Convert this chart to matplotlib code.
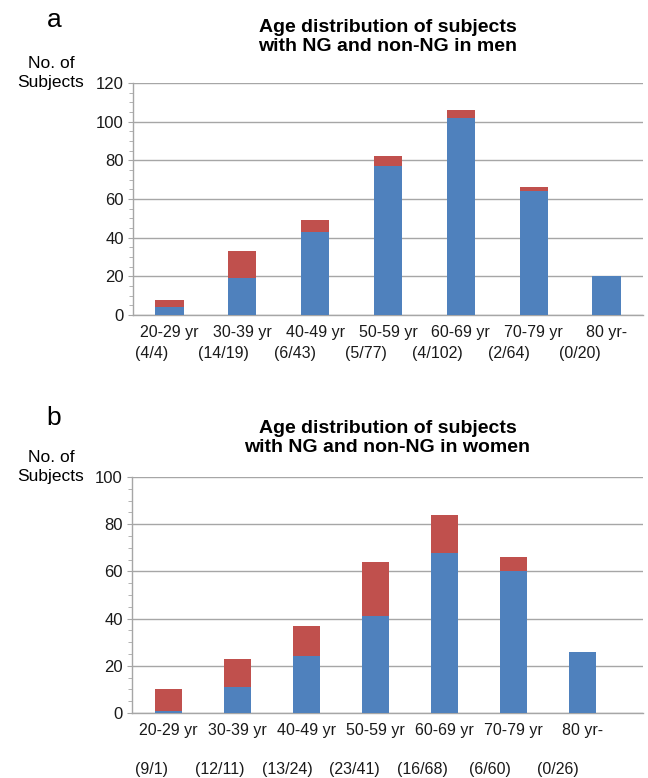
import matplotlib
matplotlib.use("Agg")
import matplotlib.pyplot as plt
from matplotlib.ticker import MultipleLocator
import numpy as np

plt.rcParams['font.family'] = ['Liberation Sans', 'DejaVu Sans']

categories = ["20-29 yr", "30-39 yr", "40-49 yr", "50-59 yr", "60-69 yr", "70-79 yr", "80 yr-"]

men_ng = [4, 14, 6, 5, 4, 2, 0]
men_non_ng = [4, 19, 43, 77, 102, 64, 20]
women_ng = [9, 12, 13, 23, 16, 6, 0]
women_non_ng = [1, 11, 24, 41, 68, 60, 26]

BLUE = "#4F81BD"
RED = "#C0504D"
GRID = "#A6A6A6"

W, H = 648, 778
fig = plt.figure(figsize=(W / 100, H / 100), dpi=100)


def px_rect(left, top, right, bottom):
    return [left / W, 1 - bottom / H, (right - left) / W, (bottom - top) / H]


def draw_panel(rect, ng, non_ng, ymax, xlim, title, letter, letter_y, label_y, title_y, count_y):
    ax = fig.add_axes(px_rect(*rect))
    x = np.arange(len(categories))
    ax.bar(x, non_ng, width=0.39, color=BLUE, linewidth=0, zorder=3)
    ax.bar(x, ng, bottom=non_ng, width=0.39, color=RED, linewidth=0, zorder=3)
    ax.set_xlim(*xlim)
    ax.set_ylim(0, ymax)
    ax.yaxis.set_major_locator(MultipleLocator(20))
    ax.yaxis.set_minor_locator(MultipleLocator(5))
    ax.yaxis.grid(True, which="major", color=GRID, linewidth=1.0, zorder=0)
    ax.set_axisbelow(True)
    for s in ["top", "right"]:
        ax.spines[s].set_visible(False)
    for s in ["left", "bottom"]:
        ax.spines[s].set_color(GRID)
        ax.spines[s].set_linewidth(1.0)
    ax.set_xticks(x)
    ax.set_xticklabels(categories, fontsize=11.5, color="#1a1a1a")
    ax.tick_params(axis="x", length=0, pad=7)
    ax.tick_params(axis="y", which="major", length=3.5, color=GRID, labelsize=12, labelcolor="#1a1a1a", pad=3)
    ax.tick_params(axis="y", which="minor", length=3, color=GRID)

    # count labels (NG / non-NG)
    trans = ax.get_xaxis_transform()
    for i, (a, b) in enumerate(zip(ng, non_ng)):
        ax.text(0.98 * i - 0.24, count_y, f"({a}/{b})", transform=trans,
                ha="center", va="center", fontsize=11.5, color="#1a1a1a", clip_on=False)

    cx = (rect[0] + rect[2]) / 2 / W
    fig.text(cx, 1 - title_y / H, title, ha="center", va="center", fontsize=14,
             fontweight="bold", linespacing=1.15)
    fig.text(54 / W, 1 - letter_y / H, letter, ha="center", va="center", fontsize=19)
    fig.text(51 / W, 1 - (label_y - 20) / H, "No. of", ha="center", va="center", fontsize=12.5)
    fig.text(51 / W, 1 - label_y / H, "Subjects", ha="center", va="center", fontsize=12.5)
    return ax


draw_panel((133, 83, 643, 315), men_ng, men_non_ng, 120, (-0.5, 6.5),
           "Age distribution of subjects\nwith NG and non-NG in men", "a",
           20, 83, 37, -0.165)
draw_panel((132, 477, 643, 713), women_ng, women_non_ng, 100, (-0.53, 6.88),
           "Age distribution of subjects\nwith NG and non-NG in women", "b",
           418, 477, 438, -0.24)

fig.savefig("out.png", dpi=100)
